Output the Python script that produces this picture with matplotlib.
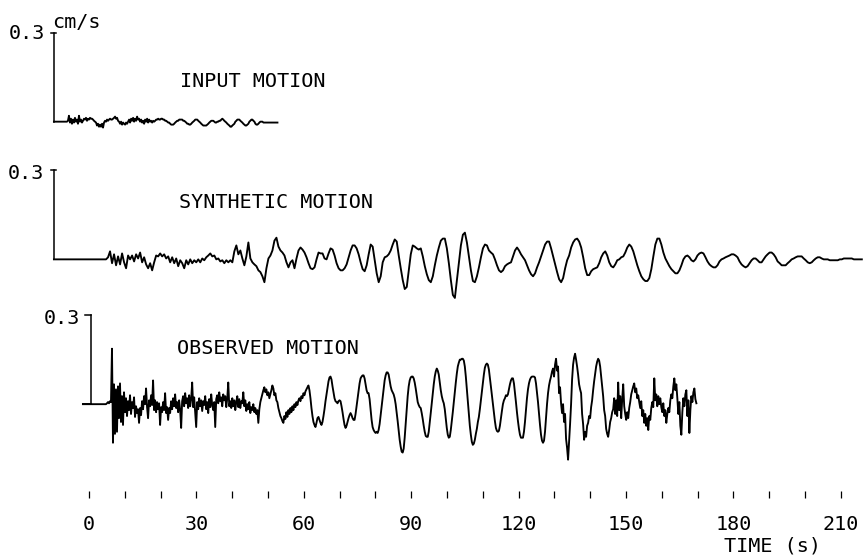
import numpy as np
import matplotlib
matplotlib.use("Agg")
import matplotlib.pyplot as plt

plt.rcParams['font.family'] = ['DejaVu Sans Mono']

# velocity traces (cm/s), uniform sampling
inp_t0, inp_dt = -9.8, 0.28
syn_t0, syn_dt = -9.8, 0.56
obs_t0, obs_dt = -1.7, 0.28

inp_v = [0, 0, 0, 0, 0, 0, 0, 0, 0, 0, 0, 0, 0, 0,
         .003, .02, -.003, .01, -.007, .007, -.003, .013, 0, .007,
         -.007, .02, 0, .007, -.003, .003, .01, .007, .013, .003,
         .01, .007, .013, .01, .01, .007, .003, 0, -.003, -.013,
         -.007, -.017, -.01, -.017, -.007, -.02, -.003, .003, 0, .007,
         .003, .007, .01, .007, .007, .01, .013, .017, .01, .013,
         .003, 0, -.007, 0, -.01, -.003, -.007, -.01, -.003, -.007,
         0, .007, -.003, .01, .003, .013, 0, .01, .003, .017,
         .007, .01, 0, .007, -.003, .003, -.007, .007, 0, .01,
         -.003, .007, 0, .003, -.003, .003, 0, .003, .007, .007,
         .01, .007, .007, .01, .01, .007, .007, .003, .003, 0,
         -.003, -.003, -.007, -.01, -.01, -.01, -.007, -.003, 0, .003,
         .003, .007, .007, .007, .007, .003, .003, 0, -.003, -.007,
         -.007, -.01, -.01, -.007, -.003, 0, .003, .007, .007, .007,
         .003, 0, -.003, -.007, -.01, -.013, -.013, -.013, -.013, -.01,
         -.007, -.003, 0, .003, .003, .003, 0, -.003, -.003, 0,
         0, .003, .003, .007, .01, .007, .003, 0, -.003, -.007,
         -.01, -.013, -.017, -.017, -.013, -.01, -.007, 0, .003, .007,
         .007, .007, .003, 0, -.003, -.007, -.01, -.013, -.013, -.01,
         -.007, 0, .003, .007, .007, .003, 0, -.007, -.01, -.01,
         -.007, -.003, 0, 0, 0, -.003, -.003, -.003, -.003, -.003,
         -.003, -.003, -.003, -.003, -.003, -.003, -.003, -.003, -.003, -.003]

syn_v = [0, 0, 0, 0, 0, 0, 0, 0, 0, 0, 0, 0, 0, 0, 0, 0, 0, 0, 0, 0, 0, 0, 0, 0, 0, 0, 0,
         .007, .027, -.013, .017, -.02, .01, -.017, .02, -.01, -.03,
         .013, 0, .013, -.007, .017, .003, .023, -.01, .007, -.017,
         -.03, -.013, -.037, -.01, .013, .01, .02, .01, .017, .003,
         .01, -.01, .007, -.013, .003, -.023, -.003, -.013, -.03, -.003,
         -.017, 0, -.013, -.003, -.01, 0, -.01, .003, -.003, .007,
         .013, .02, .01, .013, 0, .003, -.007, -.003, -.013, -.003,
         -.01, -.003, -.01, .027, .047, .017, .03, .003, -.02, .01,
         .057, .003, -.01, -.017, -.023, -.037, -.043, -.057, -.077, -.03,
         .003, .013, .03, .063, .073, .043, .03, .023, .013, -.01,
         -.027, -.01, -.003, -.03, .003, .03, .04, .033, .023, .007,
         -.013, -.03, -.033, -.027, 0, .023, .02, .02, .003, 0,
         .02, .037, .033, .013, -.013, -.03, -.037, -.037, -.03, -.017,
         .007, .03, .047, .047, .037, .017, -.01, -.033, -.04, -.02,
         .017, .05, .043, -.003, -.047, -.077, -.057, -.01, .007, .01,
         .017, .03, .05, .067, .06, .013, -.03, -.07, -.1, -.093,
         -.037, .017, .047, .043, .037, .033, .037, .01, -.023, -.05,
         -.07, -.077, -.057, -.02, .013, .04, .063, .07, .07, .037,
         -.013, -.07, -.12, -.13, -.07, -.01, .047, .083, .09, .057,
         .01, -.037, -.073, -.077, -.057, -.027, .007, .037, .05, .047,
         .03, .023, .017, 0, -.02, -.037, -.043, -.037, -.023, -.017,
         -.013, -.01, .01, .03, .04, .03, .017, .007, -.003, -.02,
         -.037, -.05, -.057, -.047, -.027, -.01, .01, .03, .05, .06,
         .06, .037, .01, -.017, -.043, -.067, -.077, -.063, -.03, -.003,
         .013, .04, .057, .067, .07, .06, .04, .007, -.03, -.053,
         -.053, -.04, -.033, -.03, -.027, -.013, .007, .02, .027, .013,
         -.01, -.023, -.027, -.017, -.003, 0, .007, .01, .023, .04,
         .05, .043, .027, .003, -.02, -.04, -.057, -.067, -.073, -.073,
         -.063, -.033, .01, .05, .07, .07, .05, .023, .003, -.01,
         -.023, -.033, -.04, -.047, -.047, -.037, -.02, 0, .01, .013,
         .007, -.003, -.007, 0, .013, .02, .023, .02, .007, -.007,
         -.017, -.023, -.027, -.027, -.02, -.007, 0, .003, .007, .01,
         .013, .017, .017, .013, .007, -.007, -.017, -.023, -.027, -.023,
         -.013, -.003, .003, .003, -.003, -.01, -.01, 0, .01, .017,
         .023, .023, .017, .007, -.007, -.013, -.02, -.02, -.02, -.013,
         -.007, 0, .003, .007, .01, .01, .01, .003, -.003, -.01,
         -.013, -.01, -.003, .003, .007, .007, .003, 0, 0, 0,
         -.003, -.003, -.003, -.003, -.003, 0, 0, .003, .003, .003,
         .003, .003, 0, 0, 0, 0, 0]

obs_v = [0, 0, 0, 0, 0, 0, 0, 0, 0, 0, 0, 0, 0, 0, 0, 0, 0, 0, 0, 0, 0, 0, 0, 0,
         .003, .007, .003, .01, .007,
         .187, -.13, .067, -.1, .05, -.093, .06, -.047, .07, -.06,
         .027, -.07, .04, -.027, .02, -.04, .01, -.02, .03, -.033,
         .007, -.013, .023, -.043, -.007, -.03, -.017, -.063, -.013, -.037,
         .01, -.017, .027, 0, .053, -.01, -.047, .013, -.007, .03,
         -.003, .08, -.02, .013, -.027, .007, -.017, .003, -.07, -.01,
         -.027, .007, -.02, .037, -.03, -.01, -.053, -.013, -.03, .01,
         -.017, .02, -.007, .033, -.013, .007, -.027, .013, -.02, -.08,
         .01, .027, -.007, .037, .003, .02, -.013, .03, -.007, .017,
         .073, -.01, .023, -.027, -.077, .007, -.017, .02, -.007, .013,
         -.023, .01, -.003, .027, -.017, .007, -.03, .017, -.01, .033,
         -.003, -.02, .007, -.077, .017, .03, .003, .04, .01, .023,
         -.007, .033, .013, .027, -.01, .02, .073, -.007, .01, -.013,
         .02, -.007, .013, -.02, .007, .027, -.01, .017, -.013, .01,
         .003, .04, -.007, .013, -.023, 0, -.017, .007, -.03, -.01,
         -.02, 0, -.027, -.013, -.033, -.02, -.063, -.017, .007, .02,
         .033, .047, .057, .04, .05, .03, .04, .02, .033, .047,
         .063, .053, .03, .037, .013, .007, -.013, -.027, -.04, -.047,
         -.057, -.063, -.04, -.05, -.027, -.043, -.02, -.033, -.013, -.027,
         -.007, -.02, 0, -.01, .007, -.003, .013, .02, .01, .027,
         .02, .037, .03, .043, .05, .057, .063, .047, .02, -.013,
         -.04, -.06, -.07, -.077, -.063, -.047, -.043, -.053, -.063, -.07,
         -.06, -.04, -.017, .01, .033, .057, .077, .09, .093, .083,
         .06, .04, .02, .01, .007, .003, .01, .013, .01, -.007,
         -.027, -.05, -.07, -.08, -.073, -.06, -.047, -.037, -.03, -.037,
         -.047, -.053, -.053, -.033, -.007, .02, .047, .07, .087, .093,
         .097, .097, .087, .067, .047, .037, .037, .017, -.02, -.053,
         -.077, -.087, -.093, -.097, -.093, -.097, -.087, -.067, -.037, -.007,
         .023, .053, .08, .097, .107, .107, .1, .08, .06, .047,
         .04, .033, .02, 0, -.027, -.057, -.09, -.12, -.143, -.16,
         -.163, -.15, -.113, -.067, -.017, .027, .06, .08, .09, .093,
         .093, .087, .073, .053, .03, .007, -.003, -.01, -.013, -.03,
         -.05, -.073, -.093, -.107, -.11, -.11, -.093, -.063, -.03, .003,
         .037, .067, .093, .11, .12, .113, .1, .073, .047, .027,
         .013, .003, -.017, -.047, -.08, -.103, -.113, -.11, -.087, -.057,
         -.027, .007, .04, .073, .103, .127, .14, .15, .15, .153,
         .153, .147, .127, .093, .053, .01, -.033, -.073, -.103, -.127,
         -.137, -.133, -.12, -.1, -.083, -.06, -.043, -.017, .013, .043,
         .073, .1, .123, .133, .137, .133, .117, .09, .06, .03,
         0, -.03, -.057, -.08, -.09, -.093, -.09, -.073, -.047, -.023,
         0, .013, .02, .03, .027, .033, .05, .067, .08, .087,
         .087, .07, .04, .007, -.027, -.057, -.083, -.103, -.113, -.113,
         -.113, -.093, -.06, -.02, .02, .05, .07, .083, .09, .093,
         .093, .093, .09, .07, .04, .007, -.033, -.07, -.103, -.123,
         -.13, -.123, -.093, -.047, 0, .037, .063, .08, .093, .11,
         .12, .093, .133, .153, .113, .127, .037, .057, .003, -.03,
         0, -.06, -.033, -.117, -.147, -.187, -.127, -.067, 0, .083,
         .133, .157, .17, .15, .127, .1, .067, .05, .037, -.033,
         -.067, -.12, -.093, -.11, -.073, -.063, -.04, -.047, -.01, .013,
         .047, .077, .103, .127, .143, .153, .147, .127, .093, .06,
         .027, -.02, -.04, -.083, -.1, -.11, -.087, -.06, -.047, -.027,
         -.017, .02, -.033, .013, -.04, .073, -.02, .027, -.047, .017,
         .067, -.007, -.033, -.053, -.027, -.047, -.013, .007, .033, .047,
         .06, .07, .04, .053, .02, .03, .007, -.013, .01, -.04,
         -.02, -.063, -.033, -.073, -.047, -.087, -.04, -.053, -.013, .007,
         -.01, .087, .013, .033, -.007, .027, 0, .02, -.01, -.027,
         .003, -.04, -.02, -.063, -.033, -.013, -.027, .013, .033, .02,
         .06, .087, .047, .067, .02, -.033, .007, -.073, -.103, -.027,
         .02, -.007, .033, .047, -.04, .013, -.097, -.02, .027, .007,
         .04, .053, .017, .003]

labels = ['INPUT MOTION', 'SYNTHETIC MOTION', 'OBSERVED MOTION']
scale_value = 0.3  # cm/s
tick_minor = list(range(0, 211, 10))
tick_major = list(range(0, 211, 30))

fig = plt.figure(figsize=(8.67, 5.57), dpi=100)
ax = fig.add_axes([0, 0, 1, 1])
ax.set_xlim(-24.86, 217.32)
ax.set_ylim(-1.877, 0)
ax.axis('off')

lw = 1.35
fs = 14.5

# baselines of the three stacked traces
base_inp, base_syn, base_obs = -0.410, -0.874, -1.362

traces = [(inp_t0, inp_dt, inp_v, base_inp),
          (syn_t0, syn_dt, syn_v, base_syn),
          (obs_t0, obs_dt, obs_v, base_obs)]
for t0, dt, v, b in traces:
    t = t0 + dt * np.arange(len(v))
    ax.plot(t, b + np.array(v), color='black', lw=lw, solid_joinstyle='round')

# 0.3 cm/s scale bars
for tb, b, cross in [(-9.8, base_inp, (-0.7, 0.7)), (-9.8, base_syn, (-0.7, 0.7)),
                     (0.5, base_obs, (-1.6, 0.0))]:
    ax.plot([tb, tb], [b, b + scale_value], color='black', lw=1.1)
    ax.plot([tb + cross[0], tb + cross[1]], [b + scale_value] * 2, color='black', lw=1.1)
ax.plot([-1.7, 0.5], [base_obs, base_obs], color='black', lw=lw)

ax.text(-12.3, -0.1314, '0.3', ha='right', va='baseline', fontsize=fs)
ax.text(-10.3, -0.0944, 'cm/s', ha='left', va='baseline', fontsize=fs)
ax.text(-12.6, -0.6033, '0.3', ha='right', va='baseline', fontsize=fs)
ax.text(-2.5, -1.0920, '0.3', ha='right', va='baseline', fontsize=fs)

ax.text(25.4, -0.2932, labels[0], ha='left', va='baseline', fontsize=fs)
ax.text(25.1, -0.7010, labels[1], ha='left', va='baseline', fontsize=fs)
ax.text(24.6, -1.1931, labels[2], ha='left', va='baseline', fontsize=fs)

# time axis: only tick marks and labels
ax2 = fig.add_axes([0, 1 - 491 / 557, 1, 0.02])
ax2.set_xlim(-24.86, 217.32)
for s in ax2.spines.values():
    s.set_visible(False)
ax2.patch.set_alpha(0)
ax2.set_yticks([])
ax2.set_xticks(tick_major)
ax2.set_xticklabels([str(v) for v in tick_major], fontsize=fs)
ax2.set_xticks([v for v in tick_minor if v not in tick_major], minor=True)
ax2.tick_params(axis='x', which='both', direction='out', length=5, width=0.9, pad=12)

fig.text(772 / 867, 1 - 551 / 557, 'TIME (s)', ha='center', va='baseline', fontsize=fs)

fig.savefig('out.png', dpi=100)
